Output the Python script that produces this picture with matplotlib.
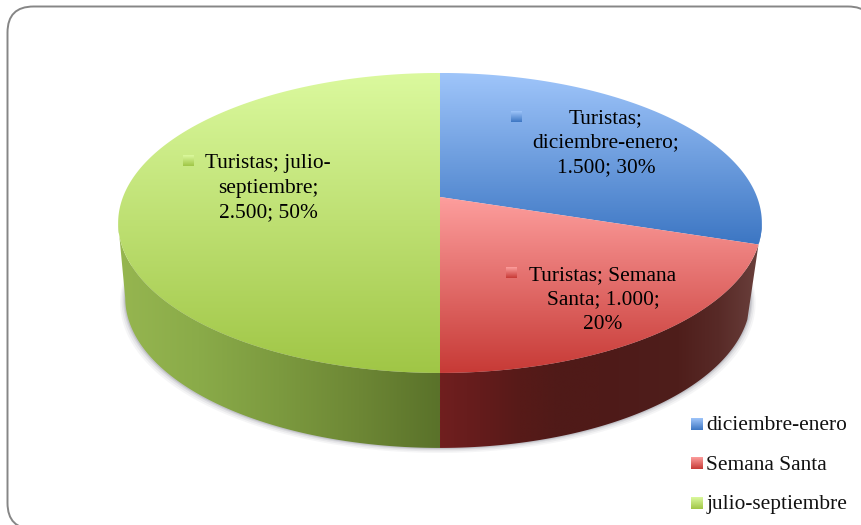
"""
plot.py

Tourists per season, drawn as a tilted 3D pie with gradient faces.
"""

import numpy as np
import matplotlib
matplotlib.use("Agg")
import matplotlib.pyplot as plt
from matplotlib.colors import LinearSegmentedColormap
from matplotlib.patches import FancyBboxPatch, PathPatch, Polygon
from matplotlib.path import Path

categories = ["diciembre-enero", "Semana Santa", "julio-septiembre"]
values = [1500, 1000, 2500]
label_lines = [
    "Turistas;\ndiciembre-enero;\n1.500; 30%",
    "Turistas; Semana\nSanta; 1.000;\n20%",
    "Turistas; julio-\nseptiembre;\n2.500; 50%",
]

top_colors = [("#9fc5fa", "#3c76c3"), ("#fd9e9d", "#c73a36"), ("#dbf99e", "#a0c646")]
# side walls, listed from the left end of each wall to its right end
side_colors = [
    ["#3c76c3", "#3c76c3"],
    ["#701f1f", "#641c1c", "#571a18", "#501a18", "#4f1a18", "#4e1c1a", "#4f1e1b", "#582a27", "#6a403c"],
    ["#96b650", "#8aab49", "#7c9a3f", "#6d8735", "#5a722a"],
]

W, H = 861, 525
CX, CY = 440, 197      # pie apex on the screen
A, B, K = 317, 145.5, 0.173   # perspective projection of the unit disc
DEPTH = 75
SHRINK_LEFT, SHRINK_RIGHT = 0.978, 0.965   # the lower rim is a little narrower

plt.rcParams["font.family"] = ["Liberation Serif", "DejaVu Serif"]

fig = plt.figure(figsize=(W / 100, H / 100), dpi=100)
ax = fig.add_axes([0, 0, 1, 1])
ax.set_xlim(0, W)
ax.set_ylim(H, 0)
ax.axis("off")


def rim(theta, depth=0.0, lower=False):
    """Screen points of the pie rim, theta clockwise from 12 o'clock."""
    u, v = np.sin(theta), np.cos(theta)
    d = 1 + K * v
    shrink = np.where(u < 0, SHRINK_LEFT, SHRINK_RIGHT) if lower else 1.0
    return CX + shrink * A * u / d, CY + depth - B * v / d


def gradient(patch, colors, extent, vertical=True):
    cmap = LinearSegmentedColormap.from_list("g", list(colors))
    ramp = np.linspace(0, 1, 256)
    img = ramp[:, None] if vertical else ramp[None, :]
    ax.add_patch(patch)
    im = ax.imshow(img, cmap=cmap, extent=extent, aspect="auto", zorder=patch.get_zorder(),
                   interpolation="bilinear", vmin=0, vmax=1)
    im.set_clip_path(patch)


def key(x, y, w, h, colors, zorder=6):
    p = Polygon([(x, y), (x + w, y), (x + w, y + h), (x, y + h)], closed=True,
                fc="none", ec="none", zorder=zorder)
    gradient(p, colors, (x, x + w, y + h, y))


# chart frame, runs off the right and bottom of the picture
frame = FancyBboxPatch((7.5, 6.5), 866.5, 522.5, boxstyle="round,pad=0,rounding_size=26",
                       fc="white", ec="#868686", lw=1.4, zorder=0)
ax.add_patch(frame)

# soft shadow under the pie
th = np.linspace(np.pi * 0.45, np.pi * 1.55, 200)
for grow, alpha in [(5, 0.05), (3.5, 0.07), (2, 0.10), (1, 0.14)]:
    x, y = rim(th, DEPTH, lower=True)
    x = CX + (x - CX) * (1 + grow / 310)
    y = y + grow
    ax.fill(np.r_[x, CX], np.r_[y, CY + DEPTH], color="#44465a", alpha=alpha, lw=0, zorder=1)

# slice angles come from the values
fractions = np.array(values) / sum(values)
edges = np.r_[0, np.cumsum(fractions)] * 2 * np.pi

# side walls, only the part of the rim that faces the viewer
t = np.linspace(0, 2 * np.pi, 721)
xs = rim(t)[0]
left_t = t[np.argmin(xs)]
right_t = t[np.argmax(xs)]
for i in range(3):
    a0, a1 = max(edges[i], right_t), min(edges[i + 1], left_t)
    if a1 <= a0:
        continue
    tt = np.linspace(a0, a1, 200)
    x1, y1 = rim(tt)
    x2, y2 = rim(tt, DEPTH, lower=True)
    poly = Polygon(np.c_[np.r_[x1, x2[::-1]], np.r_[y1, y2[::-1]]], closed=True,
                   fc="none", ec="none", zorder=2)
    gradient(poly, side_colors[i], (x1.min(), x1.max(), 460, 200), vertical=False)

# top faces
for i in range(3):
    tt = np.linspace(edges[i], edges[i + 1], 300)
    x, y = rim(tt)
    verts = np.c_[np.r_[CX, x, CX], np.r_[CY, y, CY]]
    codes = [Path.MOVETO] + [Path.LINETO] * (len(verts) - 2) + [Path.CLOSEPOLY]
    face = PathPatch(Path(verts, codes), fc="none", ec="none", zorder=3)
    y0, y1 = min(y.min(), CY), max(y.max(), CY)
    gradient(face, top_colors[i], (x.min() - 1, x.max() + 1, y1, y0))

# data labels with their small keys
label_xy = [(606, 143), (603, 300), (268, 188)]
label_key_xy = [(511, 111), (506, 267), (183, 155)]
for i in range(3):
    ax.text(label_xy[i][0], label_xy[i][1], label_lines[i], ha="center", va="center",
            fontsize=15.4, color="black", linespacing=1.39, zorder=7)
    key(label_key_xy[i][0], label_key_xy[i][1], 11, 11, top_colors[i])

# legend
legend_key_y = [418, 457, 497]
legend_text_y = [430, 470, 509]
for i in range(3):
    key(691, legend_key_y[i], 12, 12, top_colors[i])
    ax.text(706.5, legend_text_y[i], categories[i], ha="left", va="baseline", fontsize=15.4,
            color="#111111", zorder=7)

ax.set_xlim(0, W)
ax.set_ylim(H, 0)
fig.savefig("out.png", dpi=100)
